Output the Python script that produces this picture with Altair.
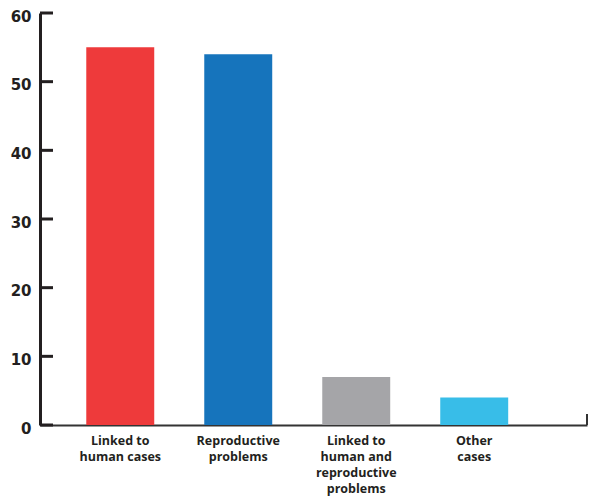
import altair as alt
import pandas as pd

categories = ["Linked to\nhuman cases", "Reproductive\nproblems",
              "Linked to\nhuman and\nreproductive\nproblems", "Other\ncases"]
values = [55, 54, 7, 4]
colors = ["#EE3A3B", "#1674BC", "#A5A5A8", "#38BDE8"]
y_ticks = [0, 10, 20, 30, 40, 50, 60]

W, H = 547, 412
df = pd.DataFrame({"category": categories, "value": values})
ticks_df = pd.DataFrame({"tick": y_ticks})

FONT = "Open Sans"
INK = "#231f20"

bars = alt.Chart(df).mark_bar().encode(
    x=alt.X("category:N", sort=None,
            scale=alt.Scale(paddingInner=0.424, paddingOuter=0.53, align=0.37),
            axis=alt.Axis(title=None, labelAngle=0, ticks=False,
                          labelExpr="split(datum.label, '\\n')",
                          labelFont=FONT, labelFontSize=12.5, labelFontWeight=700,
                          labelColor=INK, labelLineHeight=16, labelPadding=9,
                          labelBaseline="top", labelLimit=200,
                          domainColor="#333333", domainWidth=2)),
    y=alt.Y("value:Q",
            scale=alt.Scale(domain=[0, 60], nice=False),
            axis=alt.Axis(title=None, values=y_ticks, ticks=False, grid=False,
                          labelFont="DejaVu Sans", labelFontSize=15, labelFontWeight=700,
                          labelColor=INK, labelPadding=9, labelOffset=3,
                          domainColor=INK, domainWidth=3)),
    color=alt.Color("category:N", sort=None,
                    scale=alt.Scale(domain=categories, range=colors), legend=None),
)

tick_marks = alt.Chart(ticks_df).mark_rule(color=INK, strokeWidth=3).encode(
    y=alt.Y("tick:Q"),
    x=alt.value(0),
    x2=alt.value(13),
)

end_tick = alt.Chart(ticks_df.head(1)).mark_rule(color="#333333", strokeWidth=2).encode(
    x=alt.value(W),
    y=alt.value(H),
    y2=alt.value(H - 11),
)

chart = alt.layer(bars, tick_marks, end_tick).properties(
    width=W, height=H,
    autosize=alt.AutoSizeParams(type="none"),
    padding={"left": 40, "top": 13, "right": 2, "bottom": 73},
    background="white",
).configure_view(stroke=None)

chart.save("out.html", embed_options={"renderer": "svg", "actions": False})
